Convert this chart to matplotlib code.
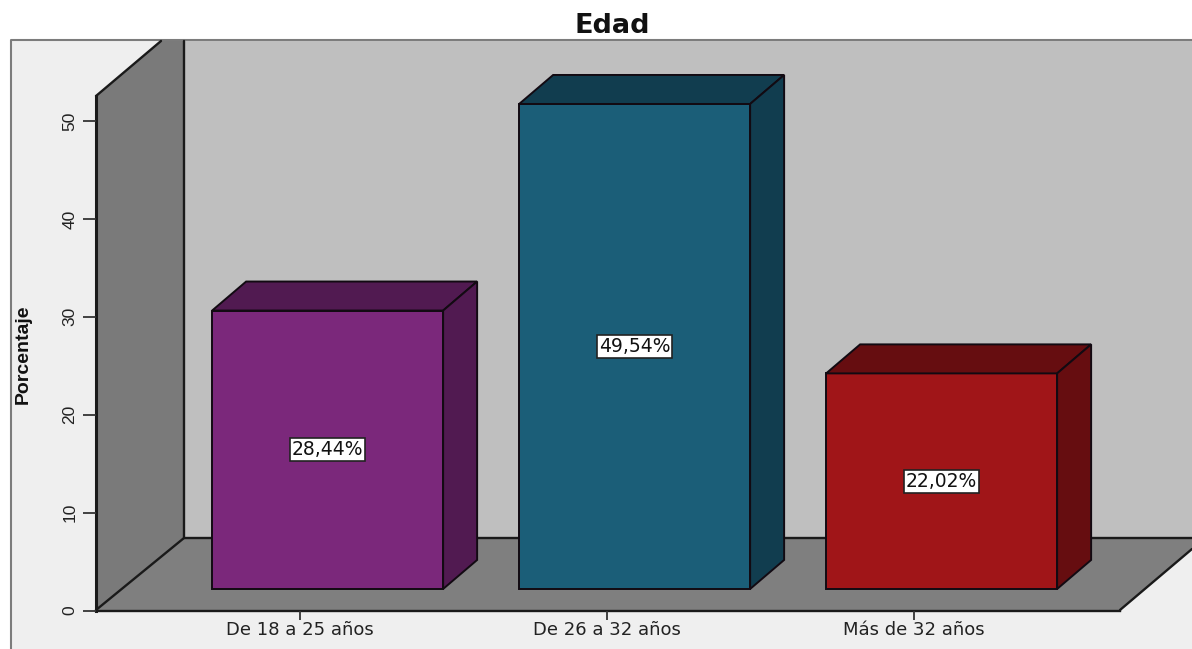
import matplotlib
matplotlib.use("Agg")
import matplotlib.pyplot as plt
from matplotlib.patches import Polygon, Rectangle
from matplotlib.lines import Line2D
from matplotlib.transforms import Affine2D

# Data
categories = ["De 18 a 25 años", "De 26 a 32 años", "Más de 32 años"]
values = [28.44, 49.54, 22.02]
colors_front = ["#7B287B", "#1B5E78", "#A01518"]
colors_dark = ["#511A51", "#113D4F", "#660D10"]
yticks = [0, 10, 20, 30, 40, 50]

W, H = 1192, 649
fig = plt.figure(figsize=(W / 100, H / 100), dpi=100, facecolor="white")
ax = fig.add_axes([0, 0, 1, 1], facecolor="none")

# Scales: category spacing 307 px, 9.79 px per percentage point
PX_X, PX_Y = 307.0, 9.79
X0_PX, Y0_PX = 300.0, 610.5
ax.set_xlim(-X0_PX / PX_X, (W - X0_PX) / PX_X)
ax.set_ylim((Y0_PX - H) / PX_Y, Y0_PX / PX_Y)

# Scene furniture in pixel space (top-left origin)
px = Affine2D().scale(1, -1).translate(0, H)
ax.add_patch(Rectangle((11, 40), W - 11, H - 40, transform=px, fc="#EFEFEF", ec="none", zorder=0))
ax.add_line(Line2D([11, 11, W], [H, 40, 40], transform=px, color="#7C7C7C", lw=1.5, zorder=0.2))
ax.add_patch(Rectangle((184, 41), W - 184, 497, transform=px, fc="#BFBFBF", ec="none", zorder=0.3))
ax.add_patch(Polygon([(96, 610), (184, 538), (184, 41), (161, 41), (96, 96)], closed=True,
                     transform=px, fc="#7A7A7A", ec="none", zorder=0.4))
ax.add_patch(Polygon([(96, 610), (184, 538), (W, 538), (W, 549), (1120, 610)], closed=True,
                     transform=px, fc="#7F7F7F", ec="none", zorder=0.4))
edge = dict(transform=px, color="#1A1A1A", lw=1.7, zorder=0.6, solid_capstyle="round")
ax.add_line(Line2D([96, 184, 184], [610, 538, 41], **edge))
ax.add_line(Line2D([184, W], [538, 538], **edge))
ax.add_line(Line2D([96, 161], [96, 41], **edge))
ax.add_line(Line2D([1120, W], [610, 549], **edge))

# Bars
BASE = 2.2
BAR_SHIFT = 0.09
BAR_W = 231 / PX_X
DX, DY = 34 / PX_X, 29 / PX_Y
lw_bar = 1.4
for i, (v, cf, cd) in enumerate(zip(values, colors_front, colors_dark)):
    xc = i + BAR_SHIFT
    l, r = xc - BAR_W / 2, xc + BAR_W / 2
    b, t = BASE, BASE + v
    ax.bar(xc, v, width=BAR_W, bottom=BASE, color=cf, edgecolor="#120A12", linewidth=lw_bar, zorder=3)
    ax.add_patch(Polygon([(l, t), (r, t), (r + DX, t + DY), (l + DX, t + DY)], closed=True,
                         fc=cd, ec="#120A12", lw=lw_bar, zorder=3))
    ax.add_patch(Polygon([(r, b), (r + DX, b + DY), (r + DX, t + DY), (r, t)], closed=True,
                         fc=cd, ec="#120A12", lw=lw_bar, zorder=3))
    ax.text(xc, b + v / 2, f"{v:.2f}%".replace(".", ","), ha="center", va="center",
            fontsize=13.5, family="DejaVu Sans", color="#111111", zorder=5,
            bbox=dict(boxstyle="square,pad=0.1", fc="white", ec="#222222", lw=1.2))

# Axes
for s in ("top", "right"):
    ax.spines[s].set_visible(False)
ax.spines["left"].set_position(("data", (96 - X0_PX) / PX_X))
ax.spines["left"].set_bounds(0, (Y0_PX - 96) / PX_Y)
ax.spines["bottom"].set_position(("data", 0))
ax.spines["bottom"].set_bounds((96 - X0_PX) / PX_X, (1120 - X0_PX) / PX_X)
ax.spines["left"].set_linewidth(2.2)
ax.spines["bottom"].set_linewidth(1.7)
for s in ("left", "bottom"):
    ax.spines[s].set_color("#1A1A1A")
    ax.spines[s].set_zorder(1)

ax.set_yticks(yticks)
ax.set_yticklabels([str(v) for v in yticks], rotation=90, va="center",
                   family="Liberation Sans", fontsize=12.5, color="#222222")
ax.tick_params(axis="y", length=9.4, width=1.3, color="#333333", pad=4)
ax.set_xticks(range(len(categories)))
ax.set_xticklabels(categories, family="DejaVu Sans", fontsize=13, color="#222222")
ax.tick_params(axis="x", length=6.5, width=1.3, color="#333333", pad=1)

ax.text(23, 354, "Porcentaje", transform=px, rotation=90, ha="center", va="center",
        family="Liberation Sans", fontweight="bold", fontsize=14, color="#111111")
ax.text(612, 26, "Edad", transform=px, ha="center", va="center",
        family="DejaVu Sans", fontweight="bold", fontsize=19.5, color="#111111")

fig.savefig("out.png", dpi=100)
